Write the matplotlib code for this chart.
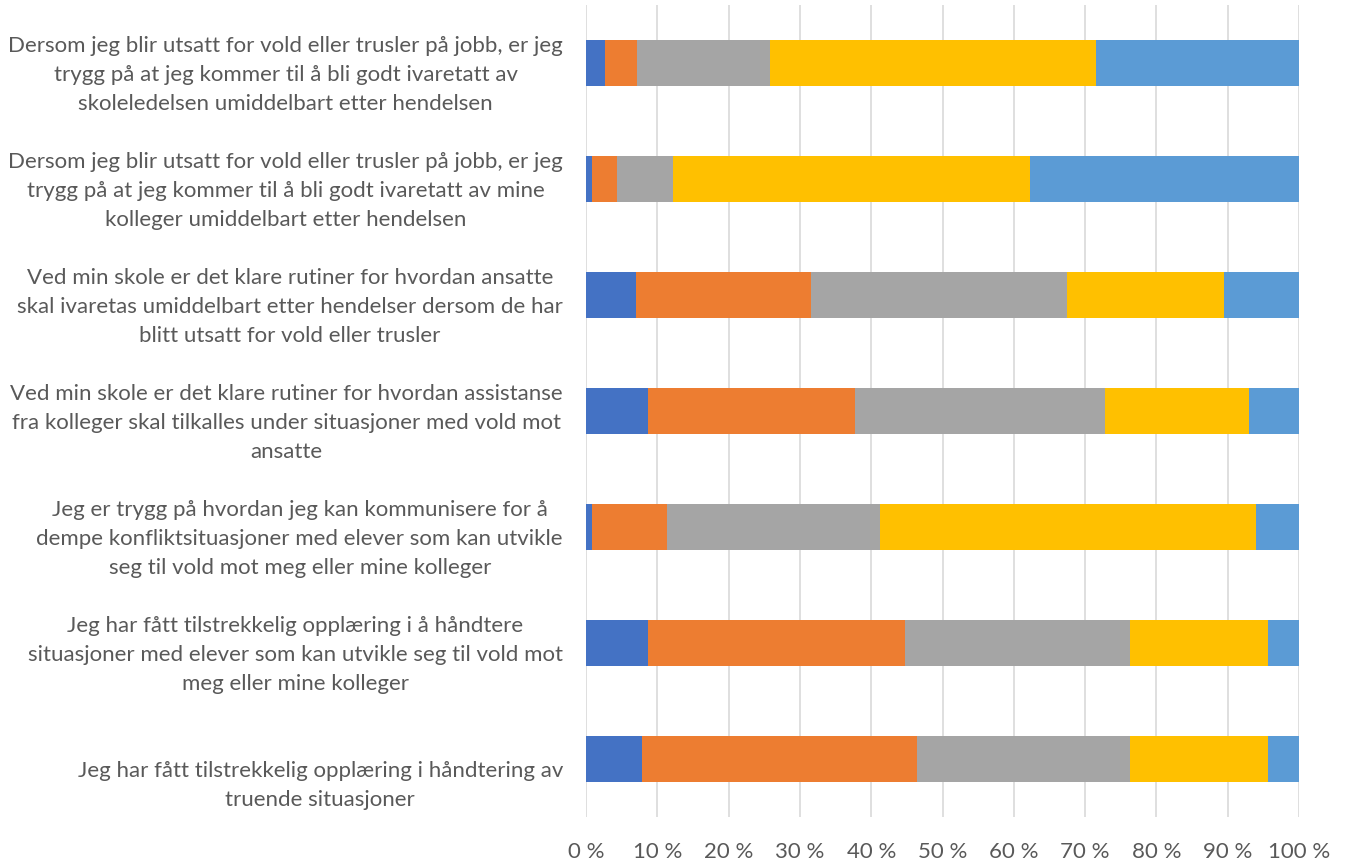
import numpy as np
import matplotlib.pyplot as plt
from matplotlib.transforms import ScaledTranslation

labels = [
    "Dersom jeg blir utsatt for vold eller trusler på jobb, er jeg\ntrygg på at jeg kommer til å bli godt ivaretatt av\nskoleledelsen umiddelbart etter hendelsen",
    "Dersom jeg blir utsatt for vold eller trusler på jobb, er jeg\ntrygg på at jeg kommer til å bli godt ivaretatt av mine\nkolleger umiddelbart etter hendelsen",
    "Ved min skole er det klare rutiner for hvordan ansatte\nskal ivaretas umiddelbart etter hendelser dersom de har\nblitt utsatt for vold eller trusler",
    "Ved min skole er det klare rutiner for hvordan assistanse\nfra kolleger skal tilkalles under situasjoner med vold mot\nansatte",
    "Jeg er trygg på hvordan jeg kan kommunisere for å\ndempe konfliktsituasjoner med elever som kan utvikle\nseg til vold mot meg eller mine kolleger",
    "Jeg har fått tilstrekkelig opplæring i å håndtere\nsituasjoner med elever som kan utvikle seg til vold mot\nmeg eller mine kolleger",
    "Jeg har fått tilstrekkelig opplæring i håndtering av\ntruende situasjoner",
]

# share of answers (%), one list per answer category
s1 = [2.6, 0.8, 7.0, 8.65, 0.8, 8.65, 7.8]
s2 = [4.5, 3.55, 24.5, 29.05, 10.6, 36.05, 38.6]
s3 = [18.7, 7.9, 36.0, 35.1, 29.8, 31.6, 29.9]
s4 = [45.7, 50.05, 22.0, 20.2, 52.7, 19.35, 19.35]
s5 = [28.5, 37.7, 10.5, 7.0, 6.1, 4.35, 4.35]

colors = ['#4472C4', '#ED7D31', '#A5A5A5', '#FFC000', '#5B9BD5']

plt.rcParams['font.family'] = ['Lato', 'DejaVu Sans']

fig = plt.figure(figsize=(13.46, 8.61), dpi=100)
ax = fig.add_axes([586/1346, 1 - 817/861, 713/1346, 812/861])

y = np.arange(len(labels))
left = np.zeros(len(labels))
for vals, c in zip([s1, s2, s3, s4, s5], colors):
    ax.barh(y, vals, left=left, height=0.4, color=c, edgecolor='none', zorder=3)
    left += np.array(vals)

ax.set_xlim(0, 100)
ax.set_ylim(len(labels) - 0.5, -0.5)
ax.set_xticks(np.arange(0, 101, 10))
ax.set_xticklabels([f"{v} %" for v in range(0, 101, 10)])
ax.set_yticks(y)
ax.set_yticklabels([])
ax.tick_params(axis='y', length=0)
ax.tick_params(axis='x', length=0, pad=18, labelsize=16, labelcolor='#595959')
ax.grid(axis='x', color='#D9D9D9', linewidth=1.2, zorder=0)
for sp in ax.spines.values():
    sp.set_visible(False)

# category labels: excel puts the last line a bit below the bar centre
shift = ScaledTranslation(-23/100, -51/100, fig.dpi_scale_trans)
for yi, lab in zip(y, labels):
    ax.text(0, yi, lab, transform=ax.get_yaxis_transform() + shift,
            ha='right', va='bottom', multialignment='center',
            linespacing=1.56, fontsize=16, color='#595959')

fig.savefig('out.png', dpi=100)
